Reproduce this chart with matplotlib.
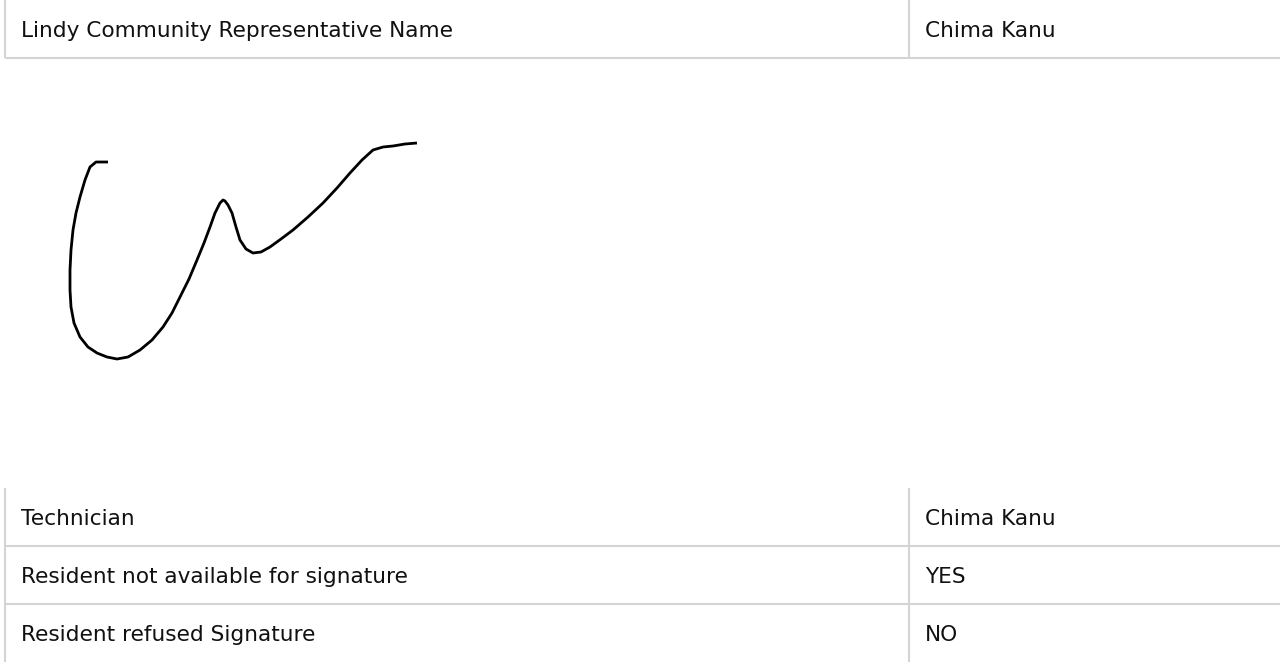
import matplotlib.pyplot as plt

# form rows: label, value
top_labels = ["Lindy Community Representative Name"]
top_values = ["Chima Kanu"]
bottom_labels = ["Technician", "Resident not available for signature", "Resident refused Signature"]
bottom_values = ["Chima Kanu", "YES", "NO"]

# signature stroke (pixel coords, y down)
sig_x = [108, 96, 90, 85, 80, 76, 73, 71, 70, 70, 71, 74, 80, 88, 97, 107, 117, 128, 140, 152,
         163, 172, 180, 189, 197, 204, 210, 215, 220, 223, 225, 228, 232, 236, 240, 246, 253,
         261, 270, 281, 293, 308, 323, 337, 350, 362, 373, 383, 393, 405, 417]
sig_y = [162, 162, 167, 180, 197, 213, 230, 250, 270, 290, 307, 323, 337, 347, 353, 357, 359, 357,
         350, 340, 327, 313, 297, 279, 260, 243, 227, 213, 203, 200, 201, 205, 213, 227, 240, 249,
         253, 252, 247, 239, 230, 217, 203, 188, 173, 160, 150, 147, 146, 144, 143]

W, H = 1280, 662
row_h = 58
top_y0 = 0
bottom_y0 = 488
div_x = 909
left_x = 5
line_c = "#d4d4d4"
fs = 15.6

fig = plt.figure(figsize=(W / 100, H / 100), dpi=100)
ax = fig.add_axes([0, 0, 1, 1])
ax.set_xlim(0, W)
ax.set_ylim(H, 0)
ax.axis("off")


def draw_table(y0, labels, values):
    n = len(labels)
    ax.vlines([left_x, div_x], y0, y0 + n * row_h, color=line_c, lw=1.5)
    for i, (lab, val) in enumerate(zip(labels, values)):
        top = y0 + i * row_h
        if i > 0:
            ax.hlines(top, left_x, W, color=line_c, lw=1.5)
        ax.text(21, top + 37, lab, fontsize=fs, va="baseline", color="#111111")
        ax.text(925, top + 37, val, fontsize=fs, va="baseline", color="#111111")


draw_table(top_y0, top_labels, top_values)
ax.hlines(top_y0 + row_h, left_x, W, color=line_c, lw=1.5)
draw_table(bottom_y0, bottom_labels, bottom_values)

ax.plot(sig_x, sig_y, color="black", lw=2.0, solid_capstyle="butt", solid_joinstyle="round")

fig.savefig("out.png", dpi=100)
